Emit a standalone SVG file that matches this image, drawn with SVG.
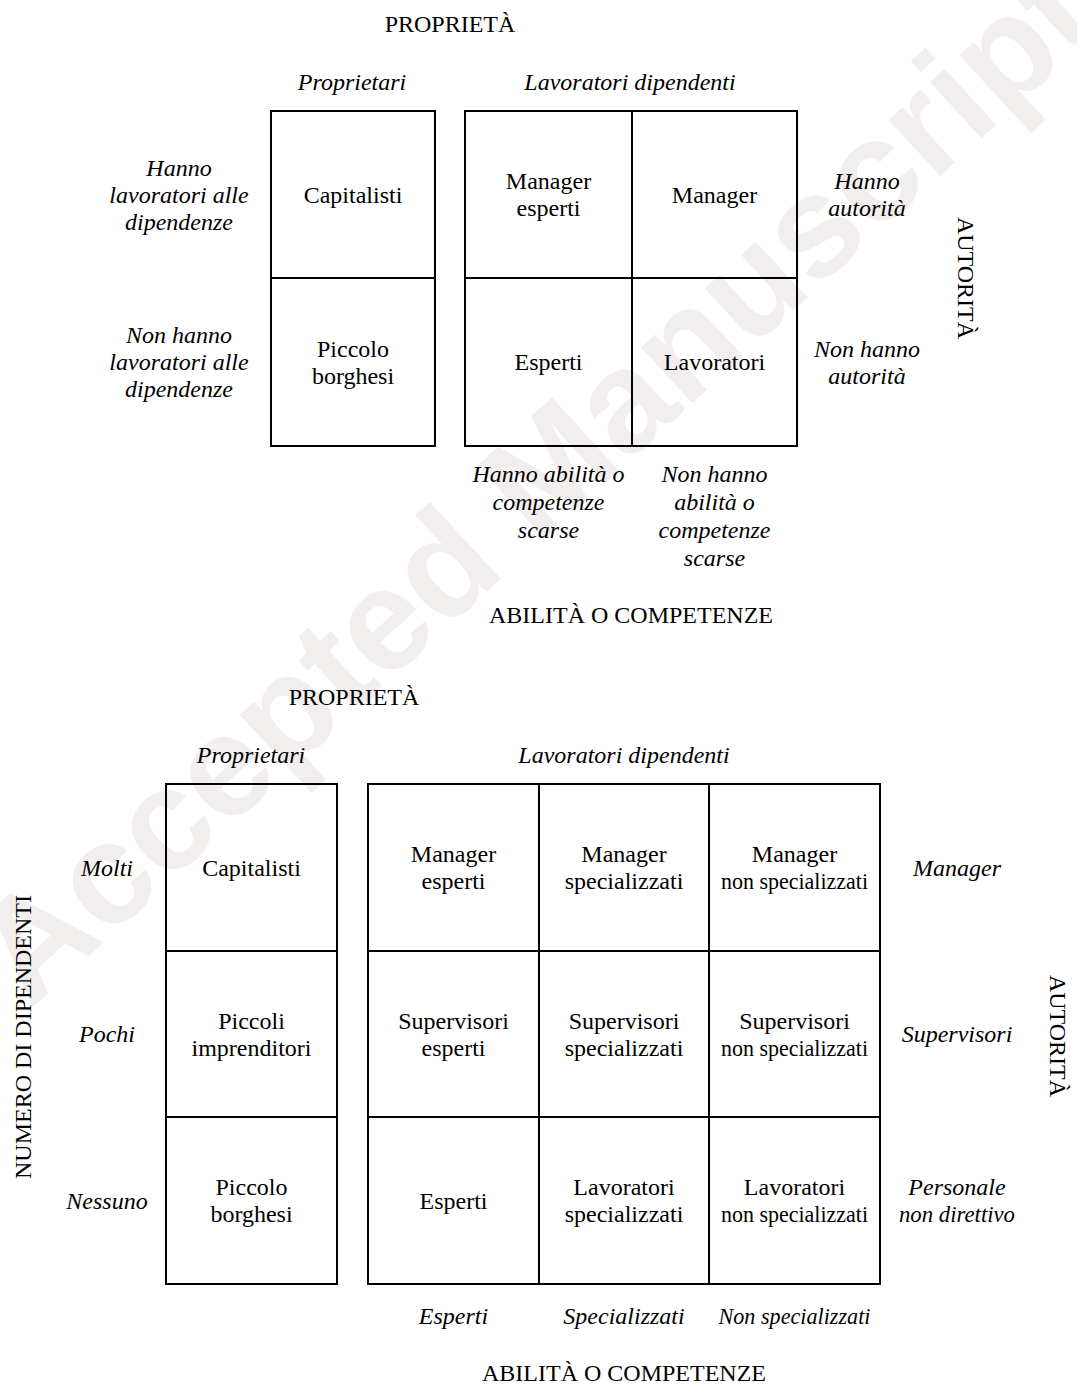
<svg xmlns="http://www.w3.org/2000/svg" width="1077" height="1384" viewBox="0 0 1077 1384">
<style>
  .bg{fill:#ffffff}
  .wm{font-family:"Liberation Sans",Arial,sans-serif;font-weight:bold;font-size:144px;fill:#f3eeee}
  .cell{fill:none;stroke:#000;stroke-width:2}
  .t{font-family:"Liberation Serif","Times New Roman",serif;font-size:24px;fill:#000;text-anchor:middle}
  .i{font-style:italic}
</style>
<rect class="bg" x="0" y="0" width="1077" height="1384"/>
<g id="watermark">
  <text class="wm" transform="translate(30,1010) rotate(-42.5)">Accepted Manuscript</text>
</g>
<g id="connectors"/>

<!-- ===== TOP DIAGRAM ===== -->
<g id="top-labels">
  <text class="t" x="450" y="32">PROPRIETÀ</text>
  <text class="t i" x="352" y="90">Proprietari</text>
  <text class="t i" x="630" y="90">Lavoratori dipendenti</text>
  <text class="t i" x="179" y="176">Hanno</text>
  <text class="t i" x="179" y="203">lavoratori alle</text>
  <text class="t i" x="179" y="230">dipendenze</text>
  <text class="t i" x="179" y="343">Non hanno</text>
  <text class="t i" x="179" y="370">lavoratori alle</text>
  <text class="t i" x="179" y="397">dipendenze</text>
  <text class="t i" x="867" y="189">Hanno</text>
  <text class="t i" x="867" y="216">autorità</text>
  <text class="t i" x="867" y="357">Non hanno</text>
  <text class="t i" x="867" y="384">autorità</text>
  <text class="t" transform="translate(958,278) rotate(90)">AUTORITÀ</text>
  <text class="t i" x="548.5" y="482">Hanno abilità o</text>
  <text class="t i" x="548.5" y="510">competenze</text>
  <text class="t i" x="548.5" y="538">scarse</text>
  <text class="t i" x="714.5" y="482">Non hanno</text>
  <text class="t i" x="714.5" y="510">abilità o</text>
  <text class="t i" x="714.5" y="538">competenze</text>
  <text class="t i" x="714.5" y="566">scarse</text>
  <text class="t" x="631" y="623">ABILITÀ O COMPETENZE</text>
</g>
<g id="t-capitalisti">
  <rect class="cell" x="271" y="111" width="164" height="167"/>
  <text class="t" x="353" y="202.5">Capitalisti</text>
</g>
<g id="t-piccolo-borghesi">
  <rect class="cell" x="271" y="278" width="164" height="168"/>
  <text class="t" x="353" y="356.5">Piccolo</text>
  <text class="t" x="353" y="383.5">borghesi</text>
</g>
<g id="t-manager-esperti">
  <rect class="cell" x="465" y="111" width="167" height="167"/>
  <text class="t" x="548.5" y="189">Manager</text>
  <text class="t" x="548.5" y="216">esperti</text>
</g>
<g id="t-manager">
  <rect class="cell" x="632" y="111" width="165" height="167"/>
  <text class="t" x="714.5" y="202.5">Manager</text>
</g>
<g id="t-esperti">
  <rect class="cell" x="465" y="278" width="167" height="168"/>
  <text class="t" x="548.5" y="370">Esperti</text>
</g>
<g id="t-lavoratori">
  <rect class="cell" x="632" y="278" width="165" height="168"/>
  <text class="t" x="714.5" y="370">Lavoratori</text>
</g>

<!-- ===== BOTTOM DIAGRAM ===== -->
<g id="bottom-labels">
  <text class="t" x="354" y="705">PROPRIETÀ</text>
  <text class="t i" x="251" y="763">Proprietari</text>
  <text class="t i" x="624" y="763">Lavoratori dipendenti</text>
  <text class="t i" x="107" y="875.5">Molti</text>
  <text class="t i" x="107" y="1042">Pochi</text>
  <text class="t i" x="107" y="1208.5">Nessuno</text>
  <text class="t i" x="957" y="875.5">Manager</text>
  <text class="t i" x="957" y="1042">Supervisori</text>
  <text class="t i" x="957" y="1195">Personale</text>
  <text class="t i" x="957" y="1222" textLength="116" lengthAdjust="spacingAndGlyphs">non direttivo</text>
  <text class="t" transform="translate(31,1037) rotate(-90)">NUMERO DI DIPENDENTI</text>
  <text class="t" transform="translate(1050,1036) rotate(90)">AUTORITÀ</text>
  <text class="t i" x="453.5" y="1324">Esperti</text>
  <text class="t i" x="624" y="1324">Specializzati</text>
  <text class="t i" x="794.5" y="1324" textLength="152" lengthAdjust="spacingAndGlyphs">Non specializzati</text>
  <text class="t" x="624" y="1381">ABILITÀ O COMPETENZE</text>
</g>
<g id="b-capitalisti">
  <rect class="cell" x="166" y="784" width="171" height="167"/>
  <text class="t" x="251.5" y="875.5">Capitalisti</text>
</g>
<g id="b-piccoli-imprenditori">
  <rect class="cell" x="166" y="951" width="171" height="166"/>
  <text class="t" x="251.5" y="1028.5">Piccoli</text>
  <text class="t" x="251.5" y="1055.5">imprenditori</text>
</g>
<g id="b-piccolo-borghesi">
  <rect class="cell" x="166" y="1117" width="171" height="167"/>
  <text class="t" x="251.5" y="1195">Piccolo</text>
  <text class="t" x="251.5" y="1222">borghesi</text>
</g>
<g id="b-manager-esperti">
  <rect class="cell" x="368" y="784" width="171" height="167"/>
  <text class="t" x="453.5" y="862">Manager</text>
  <text class="t" x="453.5" y="889">esperti</text>
</g>
<g id="b-manager-specializzati">
  <rect class="cell" x="539" y="784" width="170" height="167"/>
  <text class="t" x="624" y="862">Manager</text>
  <text class="t" x="624" y="889">specializzati</text>
</g>
<g id="b-manager-non-specializzati">
  <rect class="cell" x="709" y="784" width="171" height="167"/>
  <text class="t" x="794.5" y="862">Manager</text>
  <text class="t" x="794.5" y="889" textLength="147" lengthAdjust="spacingAndGlyphs">non specializzati</text>
</g>
<g id="b-supervisori-esperti">
  <rect class="cell" x="368" y="951" width="171" height="166"/>
  <text class="t" x="453.5" y="1028.5">Supervisori</text>
  <text class="t" x="453.5" y="1055.5">esperti</text>
</g>
<g id="b-supervisori-specializzati">
  <rect class="cell" x="539" y="951" width="170" height="166"/>
  <text class="t" x="624" y="1028.5">Supervisori</text>
  <text class="t" x="624" y="1055.5">specializzati</text>
</g>
<g id="b-supervisori-non-specializzati">
  <rect class="cell" x="709" y="951" width="171" height="166"/>
  <text class="t" x="794.5" y="1028.5">Supervisori</text>
  <text class="t" x="794.5" y="1055.5" textLength="147" lengthAdjust="spacingAndGlyphs">non specializzati</text>
</g>
<g id="b-esperti">
  <rect class="cell" x="368" y="1117" width="171" height="167"/>
  <text class="t" x="453.5" y="1208.5">Esperti</text>
</g>
<g id="b-lavoratori-specializzati">
  <rect class="cell" x="539" y="1117" width="170" height="167"/>
  <text class="t" x="624" y="1195">Lavoratori</text>
  <text class="t" x="624" y="1222">specializzati</text>
</g>
<g id="b-lavoratori-non-specializzati">
  <rect class="cell" x="709" y="1117" width="171" height="167"/>
  <text class="t" x="794.5" y="1195">Lavoratori</text>
  <text class="t" x="794.5" y="1222" textLength="147" lengthAdjust="spacingAndGlyphs">non specializzati</text>
</g>
</svg>
